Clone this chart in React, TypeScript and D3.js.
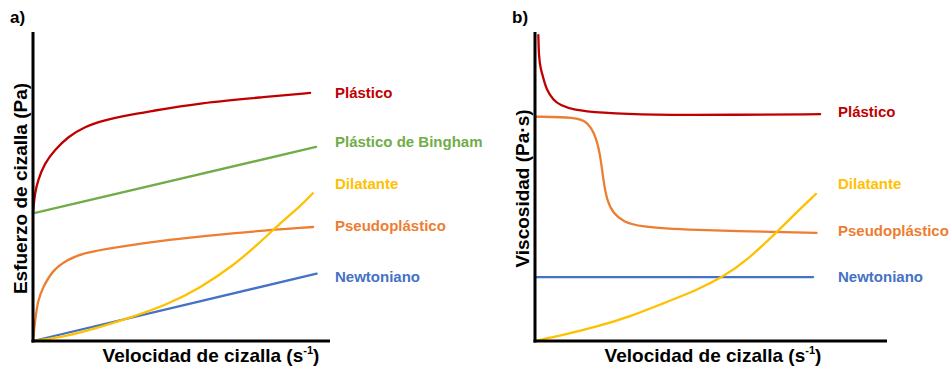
import * as d3 from "d3";

// --- data (arbitrary units, 0..100 on both axes) ---
type Pt = [number, number];

const stressPlastic: Pt[] = [
  [0, 41.3], [0.6, 47.8], [1.7, 52.1], [3.9, 57.5], [7.3, 61.8], [11.8, 66.1],
  [17.4, 69.4], [24.1, 71.5], [32, 73.1], [38.7, 74.2], [56.2, 77.1], [78.8, 79], [93.3, 80.3],
];
const stressBingham: Pt[] = [[0, 41.3], [95.3, 62.8]];
const stressDilatant: Pt[] = [
  [0, 0], [11.4, 1.5], [22.6, 4.5], [33.8, 7.9], [45, 11.7], [56.2, 17.1],
  [67.4, 24.4], [75.3, 30.9], [83.2, 38.1], [89.9, 43.5], [94.2, 47.8],
];
const stressPseudo: Pt[] = [
  [0, 0], [0.7, 6.8], [1.7, 13.3], [3.4, 17.5], [6.7, 23], [11.4, 26.2],
  [16.8, 28.5], [28.3, 30.4], [45.1, 32.7], [67.3, 35], [94.3, 36.9],
];
const stressNewton: Pt[] = [[0, 0], [95.5, 21.8]];

const viscPlastic: Pt[] = [
  [0.95, 99], [1.1, 92], [1.6, 88], [2.4, 85], [3.3, 81.2], [5.2, 78], [7.1, 76.4],
  [10.9, 74.8], [18.5, 73.9], [32.7, 73.1], [56.3, 73.2], [81, 73.4],
];
const viscPseudo: Pt[] = [
  [0, 72.6], [11.8, 72.4], [14.7, 71], [17, 67.2], [18.5, 60.7], [19.4, 52.1],
  [20.4, 45.6], [22.2, 41.3], [25.1, 38.6], [29.8, 37], [42.1, 35.9], [80, 35],
];
const viscDilatant: Pt[] = [
  [0, 0], [8, 1.9], [17.5, 4.6], [27, 7.9], [36.4, 12.2], [45.9, 16.4],
  [53.5, 20.8], [60.1, 26], [68.7, 35.2], [74.3, 41.6], [79.8, 47.6],
];
const viscNewton: Pt[] = [[0, 20.7], [79, 20.7]];

// label text and the y value (data units) where each label sits
const labelsA = ["Plástico", "Plástico de Bingham", "Dilatante", "Pseudoplástico", "Newtoniano"];
const labelYA = [80.3, 64.4, 50.8, 37.2, 20.7];
const labelsB = ["Plástico", "Dilatante", "Pseudoplástico", "Newtoniano"];
const labelYB = [74.1, 50.8, 35.6, 20.7];

const RED = "#C00000";
const GREEN = "#70AD47";
const YELLOW = "#FFC000";
const ORANGE = "#ED7D31";
const BLUE = "#4472C4";

const seriesA = [
  { pts: stressPlastic, color: RED, curve: d3.curveBasis },
  { pts: stressBingham, color: GREEN, curve: d3.curveLinear },
  { pts: stressPseudo, color: ORANGE, curve: d3.curveBasis },
  { pts: stressNewton, color: BLUE, curve: d3.curveLinear },
  { pts: stressDilatant, color: YELLOW, curve: d3.curveBasis },
];
const colorsA = [RED, GREEN, YELLOW, ORANGE, BLUE];

const seriesB = [
  { pts: viscPlastic, color: RED, curve: d3.curveBasis },
  { pts: viscPseudo, color: ORANGE, curve: d3.curveBasis },
  { pts: viscNewton, color: BLUE, curve: d3.curveLinear },
  { pts: viscDilatant, color: YELLOW, curve: d3.curveBasis },
];
const colorsB = [RED, YELLOW, ORANGE, BLUE];

const FONT = "'Liberation Sans', Arial, sans-serif";

interface PanelProps {
  tag: string;
  yTitle: string;
  x0: number;
  axisEnd: number;
  series: { pts: Pt[]; color: string; curve: d3.CurveFactory }[];
  labels: string[];
  labelY: number[];
  labelColors: string[];
  labelX: number;
  yTitleX: number;
  xTitleX: number;
}

function Panel({ tag, yTitle, x0, axisEnd, series, labels, labelY, labelColors, labelX, yTitleX, xTitleX }: PanelProps) {
  const top = 32;
  const bottom = 341;
  const x = d3.scaleLinear().domain([0, 100]).range([x0, axisEnd]);
  const y = d3.scaleLinear().domain([0, 100]).range([bottom, top]);
  const yMid = (top + bottom) / 2 + 2;

  return (
    <g>
      <text x={x0 - 23} y={23} fontFamily={FONT} fontWeight="bold" fontSize={17} fill="#000">
        {tag}
      </text>
      {series.map((s, i) => {
        const line = d3
          .line<Pt>()
          .x((d) => x(d[0]))
          .y((d) => y(d[1]))
          .curve(s.curve);
        return (
          <path key={i} d={line(s.pts) || ""} fill="none" stroke={s.color} strokeWidth={2.3} strokeLinecap="round" />
        );
      })}
      <line x1={x0} x2={x0} y1={top} y2={bottom + 1.5} stroke="#000" strokeWidth={3} />
      <line x1={x0 - 1.5} x2={axisEnd} y1={bottom} y2={bottom} stroke="#000" strokeWidth={3} />
      <text
        transform={`translate(${yTitleX},${yMid}) rotate(-90)`}
        textAnchor="middle"
        fontFamily={FONT}
        fontWeight="bold"
        fontSize={19}
        fill="#000"
      >
        {yTitle}
      </text>
      <text x={xTitleX} y={362} textAnchor="middle" fontFamily={FONT} fontWeight="bold" fontSize={19} fill="#000">
        Velocidad de cizalla (s
        <tspan fontSize={11} dy={-8}>
          -1
        </tspan>
        <tspan dy={8}>)</tspan>
      </text>
      {labels.map((l, i) => (
        <text
          key={l}
          x={labelX}
          y={y(labelY[i])}
          dy="0.36em"
          fontFamily={FONT}
          fontWeight="bold"
          fontSize={15}
          fill={labelColors[i]}
        >
          {l}
        </text>
      ))}
    </g>
  );
}

export default function App() {
  return (
    <svg width={950} height={370} style={{ position: "absolute", left: 0, top: 0, background: "#fff" }}>
      <rect width={950} height={370} fill="#fff" />
      <Panel
        tag="a)"
        yTitle="Esfuerzo de cizalla (Pa)"
        x0={33}
        axisEnd={330}
        series={seriesA}
        labels={labelsA}
        labelY={labelYA}
        labelColors={colorsA}
        labelX={335}
        yTitleX={27}
        xTitleX={211}
      />
      <Panel
        tag="b)"
        yTitle="Viscosidad (Pa·s)"
        x0={535}
        axisEnd={887}
        series={seriesB}
        labels={labelsB}
        labelY={labelYB}
        labelColors={colorsB}
        labelX={838}
        yTitleX={529}
        xTitleX={713}
      />
    </svg>
  );
}
